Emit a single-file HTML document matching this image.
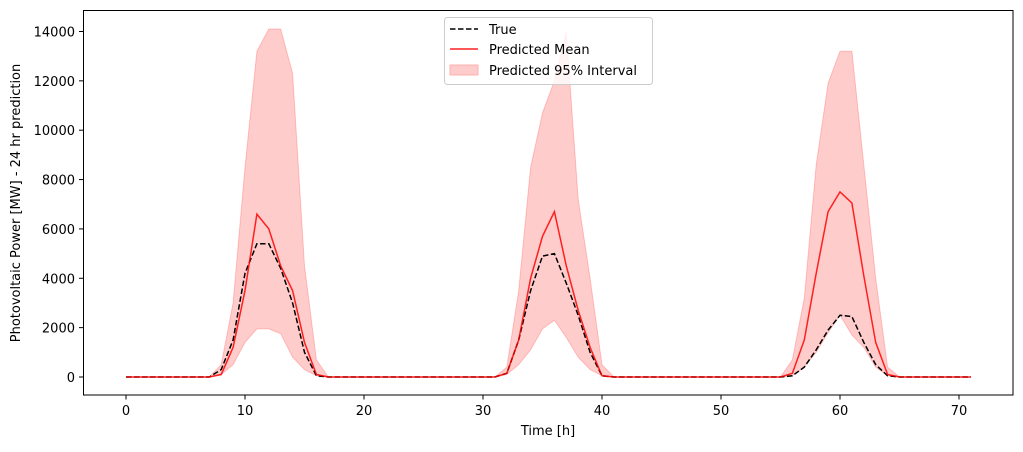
<!DOCTYPE html>
<html><head><meta charset="utf-8"><style>
body{margin:0;background:#fff;font-family:"DejaVu Sans","Liberation Sans",sans-serif;}
svg text{font-family:"DejaVu Sans","Liberation Sans",sans-serif;font-size:13px;fill:#000;}
</style></head><body>
<svg id="chart" width="1023" height="448" viewBox="0 0 1023 448" xmlns="http://www.w3.org/2000/svg">
<g id="band"></g>
<g id="lines"></g>
<g id="axes"></g>
<text x="548" y="435" text-anchor="middle">Time [h]</text>
<text transform="translate(20,203) rotate(-90)" text-anchor="middle">Photovoltaic Power [MW] - 24 hr prediction</text>
<g>
<rect x="444.5" y="17.5" width="208" height="67" rx="3" fill="#fff" fill-opacity="0.8" stroke="#ccc"/>
<line x1="450" y1="29" x2="478" y2="29" stroke="#000" stroke-width="1.5" stroke-dasharray="5.5,2.5"/>
<text x="489" y="34">True</text>
<line x1="450" y1="49" x2="478" y2="49" stroke="#ff2020" stroke-width="1.5"/>
<text x="489" y="54">Predicted Mean</text>
<rect x="450" y="65" width="28" height="10" fill="#ffcccc" stroke="#ffb0b0"/>
<text x="489" y="75">Predicted 95% Interval</text>
</g>
</svg>
<script>
const hours = Array.from({length:72},(_,i)=>i);
const trueVals = [0,0,0,0,0,0,0,0,300,1500,4200,5400,5400,4400,3000,1000,50,0,0,0,0,0,0,0,0,0,0,0,0,0,0,0,150,1500,3500,4900,5000,3800,2500,1000,50,0,0,0,0,0,0,0,0,0,0,0,0,0,0,0,50,400,1100,1900,2500,2450,1400,500,50,0,0,0,0,0,0,0];
const meanVals = [0,0,0,0,0,0,0,0,100,1200,3500,6600,6000,4500,3500,1400,100,0,0,0,0,0,0,0,0,0,0,0,0,0,0,0,150,1500,4000,5700,6700,4500,2700,1200,50,0,0,0,0,0,0,0,0,0,0,0,0,0,0,0,150,1500,4200,6700,7500,7050,4100,1400,100,0,0,0,0,0,0,0];
const upperVals = [0,0,0,0,0,0,0,0,500,3000,8500,13200,14100,14100,12300,4500,700,0,0,0,0,0,0,0,0,0,0,0,0,0,0,0,400,3500,8500,10700,12000,14000,7200,4000,500,0,0,0,0,0,0,0,0,0,0,0,0,0,0,0,700,3200,8600,11900,13200,13200,8600,4000,400,0,0,0,0,0,0,0];
const lowerVals = [0,0,0,0,0,0,0,0,100,500,1400,1950,1950,1750,800,300,50,0,0,0,0,0,0,0,0,0,0,0,0,0,0,0,100,500,1100,1950,2300,1600,800,300,50,0,0,0,0,0,0,0,0,0,0,0,0,0,0,0,50,400,1000,1800,2500,1700,1200,400,50,0,0,0,0,0,0,0];
const xTicks = [0,10,20,30,40,50,60,70];
const yTicks = [0,2000,4000,6000,8000,10000,12000,14000];

const X = v => 126 + v*11.9;
const Y = v => 377 - v*0.02468;
const NS = "http://www.w3.org/2000/svg";
function mk(tag, attrs, parent){const e=document.createElementNS(NS,tag);for(const k in attrs)e.setAttribute(k,attrs[k]);parent.appendChild(e);return e;}

const band=document.getElementById('band');
let d='M'+hours.map((h,i)=>X(h)+','+Y(upperVals[i])).join('L');
for(let i=hours.length-1;i>=0;i--) d+='L'+X(hours[i])+','+Y(lowerVals[i]);
d+='Z';
const bp=mk('path',{d:d,fill:'#ff0000','fill-opacity':0.2,stroke:'#ff0000','stroke-opacity':0.2,'stroke-width':1},band);



const lines=document.getElementById('lines');
const tl=mk('polyline',{points:hours.map((h,i)=>X(h)+','+Y(trueVals[i])).join(' '),fill:'none',stroke:'#000','stroke-width':1.5,'stroke-dasharray':'5.5,2.5'},lines);


const ml=mk('polyline',{points:hours.map((h,i)=>X(h)+','+Y(meanVals[i])).join(' '),fill:'none',stroke:'#ff0000','stroke-opacity':0.85,'stroke-width':1.5},lines);



const axes=document.getElementById('axes');
const fr=mk('rect',{x:83.5,y:10.5,width:929.5,height:384.5,fill:'none',stroke:'#000','stroke-width':1},axes);


xTicks.forEach(t=>{
  const l=mk('line',{x1:X(t),y1:395,x2:X(t),y2:399.5,stroke:'#000'},axes);
  
  
  const tx=mk('text',{x:X(t),y:415,'text-anchor':'middle'},axes);
  tx.textContent=t;
  
  
});
yTicks.forEach(t=>{
  const l=mk('line',{x1:79,y1:Y(t),x2:83.5,y2:Y(t),stroke:'#000'},axes);
  
  
  const tx=mk('text',{x:75,y:Y(t)+5,'text-anchor':'end'},axes);
  tx.textContent=t;
  
  
});
</script>
</body></html>
